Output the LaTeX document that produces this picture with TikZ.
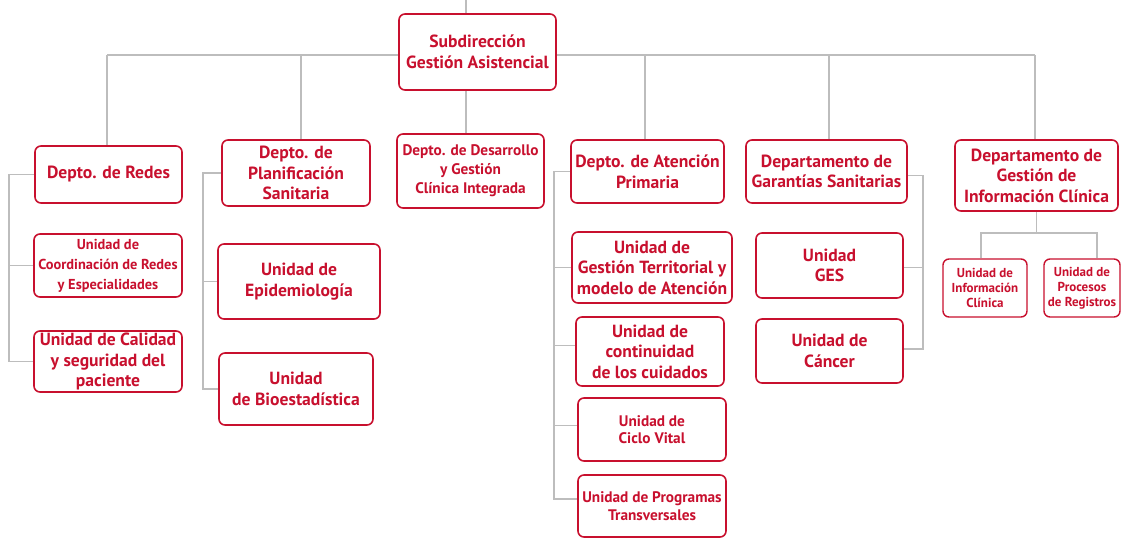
\documentclass[tikz,border=0pt]{standalone}
\usepackage{fontspec}
\setmainfont{PT Sans}
\usetikzlibrary{positioning}
\definecolor{rojo}{HTML}{C8102E}
\definecolor{gris}{HTML}{BDBDBD}

\begin{document}
\begin{tikzpicture}[x=1pt, y=-1pt,
                    caja/.style={draw=rojo, fill=white, text=rojo, line width=1.6pt,
                                 rounded corners=6pt, align=center, inner sep=0pt,
                                 font=\bfseries\fontsize{17.6}{20.5}\selectfont},
                    med/.style={caja, font=\bfseries\fontsize{15.3}{19}\selectfont},
                    peq/.style={caja, font=\bfseries\fontsize{14.4}{20}\selectfont},
                    ciclo/.style={caja, font=\bfseries\fontsize{15.3}{17.5}\selectfont},
                    min/.style={caja, line width=1.4pt, font=\bfseries\fontsize{13}{15}\selectfont},
                    link/.style={gris, line width=1.6pt}]
  \useasboundingbox (0,0) rectangle (1122,538);
  \coordinate (top) at (466,0);
  \coordinate (busL) at (107,55);
  \coordinate (busR) at (1035,55);
  \coordinate (bp) at (301,55);
  \coordinate (ba) at (645,55);
  \coordinate (bg) at (829,55);
  \coordinate (ibl) at (981,233);
  \coordinate (ibr) at (1097,233);
  % bus and stubs (drawn first, boxes cover them)
  \draw[link] (busL) -- (busR);
  \draw[link] (top) -- (top |- 0,14);
  \draw[link] (top |- 0,90) -- (top |- 0,134);
  \draw[link] (busL) -- (busL |- 0,146);
  \draw[link] (bp) -- (bp |- 0,140);
  \draw[link] (ba) -- (ba |- 0,140);
  \draw[link] (bg) -- (bg |- 0,140);
  \draw[link] (busR) -- (busR |- 0,140);
  % top level
  \node[caja, minimum width=157, minimum height=76] (sub) at (477.5,52) {Subdirección\\Gestión Asistencial};
  \node[caja, minimum width=147, minimum height=57] (redes) at (108.5,174.5) {Depto. de Redes};
  \node[caja, minimum width=148, minimum height=66] (plan) at (296,173) {Depto. de\\Planificación\\Sanitaria};
  \node[med, minimum width=147, minimum height=74] (desa) at (470.5,171) {Depto. de Desarrollo\\y Gestión\\Clínica Integrada};
  \node[caja, minimum width=153, minimum height=63] (aten) at (647.5,171.5) {Depto. de Atención\\Primaria};
  \node[caja, minimum width=161, minimum height=63] (gara) at (826.5,171.5) {Departamento de\\Garantías Sanitarias};
  \node[caja, minimum width=163, minimum height=71] (info) at (1036.5,175.5) {Departamento de\\Gestión de\\Información Clínica};
  % units
  \node[peq, minimum width=148, minimum height=63] (coord) at (108,265.5) {Unidad de\\Coordinación de Redes\\y Especialidades};
  \node[caja, minimum width=148, minimum height=61] (cali) at (108,361.5) {Unidad de Calidad\\y seguridad del\\paciente};
  \node[caja, minimum width=162, minimum height=75] (epi) at (299,281.5) {Unidad de\\Epidemiología};
  \node[caja, minimum width=154, minimum height=72] (bio) at (296,389) {Unidad\\de Bioestadística};
  \node[caja, minimum width=160, minimum height=71] (terr) at (652,267.5) {Unidad de\\Gestión Territorial y\\modelo de Atención};
  \node[caja, minimum width=148, minimum height=69] (cont) at (650,351.5) {Unidad de\\continuidad\\de los cuidados};
  \node[ciclo, minimum width=148, minimum height=63] (cicl) at (652,429.5) {Unidad de\\Ciclo Vital};
  \node[ciclo, minimum width=148, minimum height=62] (prog) at (652,506) {Unidad de Programas\\Transversales};
  \node[caja, minimum width=147, minimum height=65] (ges) at (829.5,265.5) {Unidad\\GES};
  \node[caja, minimum width=147, minimum height=64] (canc) at (829.5,351) {Unidad de\\Cáncer};
  \node[min, minimum width=84, minimum height=58] (uinf) at (985,288) {Unidad de\\Información\\Clínica};
  \node[min, minimum width=76, minimum height=58] (proc) at (1082,288) {Unidad de\\Procesos\\de Registros};
  % side rails
  \draw[link] (redes.west) -- ++(-25,0) |- (cali.west);
  \draw[link] (coord.west) -- ++(-24,0);
  \draw[link] (plan.west) -- ++(-18,0) |- (bio.west);
  \draw[link] (epi.west) -- ++(-14,0);
  \draw[link] (aten.west) -- ++(-16,0) |- ([yshift=7]prog.west);
  \draw[link] (terr.west) -- ++(-17,0);
  \draw[link] ([yshift=6]cont.west) -- ++(-21,0);
  \draw[link] ([yshift=4]cicl.west) -- ++(-23,0);
  \draw[link] ([yshift=-4]gara.east) -- ++(15,0) |- ([yshift=2]canc.east);
  \draw[link] ([yshift=-2]ges.east) -- ++(19,0);
  \draw[link] (info.south) -- (info.south |- ibl);
  \draw[link] (uinf.north -| ibl) |- (ibr) -- (ibr |- proc.north);
\end{tikzpicture}
\end{document}
